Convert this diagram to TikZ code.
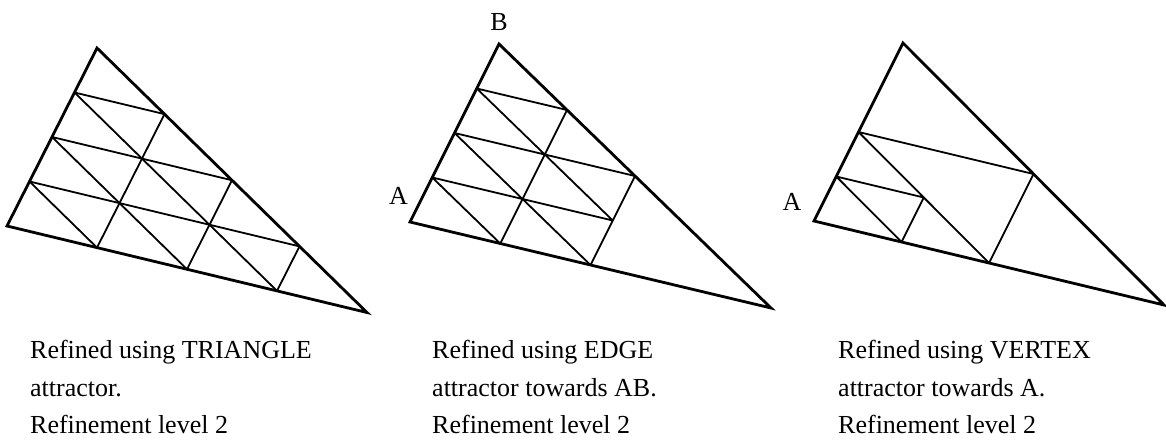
\documentclass[tikz,border=0pt]{standalone}
\usepackage{fontspec}
\setmainfont{Liberation Serif}
\usetikzlibrary{calc}
\tikzset{rim/.style={line width=2.8pt},mesh/.style={line width=1.8pt},
 lbl/.style={font=\fontsize{26}{30}\selectfont,inner sep=0pt},
 txt/.style={anchor=base west,inner sep=0pt,font=\fontsize{26}{30}\selectfont}}
\begin{document}
\begin{tikzpicture}[x=1pt,y=-1pt]
\useasboundingbox (0,0) rectangle (1166,441);
\foreach \n/\ax/\ay/\bx/\by/\cx/\cy in {1/7/226/97/48/367/312.5,2/410/222/499/44/771/308,3/814/221/903/43/1164/305}{
 \coordinate (a\n) at (\ax,\ay);\coordinate (b\n) at (\bx,\by);\coordinate (c\n) at (\cx,\cy);}
\foreach \n in {1,2,3}{\foreach \i in {0,...,4}{\foreach \j in {0,...,4}{
 \pgfmathtruncatemacro\w{4-\i-\j}\coordinate (p\n\i\j) at (barycentric cs:a\n=\w,c\n=\i,b\n=\j);}}}
\foreach \i/\e in {1/3,2/2,3/1}{\draw[mesh](p10\i)--(p1\e\i);\draw[mesh](p1\i0)--(p1\i\e);\draw[mesh](p1\i0)--(p10\i);}
\draw[mesh](p201)--(p221) (p202)--(p222) (p203)--(p213) (p210)--(p213) (p220)--(p222)
 (p210)--(p201) (p220)--(p202) (p221)--(p203);
\draw[mesh](p301)--(p311) (p302)--(p322) (p310)--(p311) (p320)--(p322) (p310)--(p301) (p320)--(p302);
\foreach \n in {1,2,3}{\draw[rim](a\n)--(b\n)--(c\n)--cycle;}
\node[lbl](lb2) at (499,22.5){B};\node[lbl](la2) at (398.5,195.5){A};\node[lbl](la3) at (792,201.5){A};
\node[txt](t1a) at (30,358){Refined using TRIANGLE};\node[txt](t1b) at (30,396){attractor.};
\node[txt](t1c) at (30,433){Refinement level 2};
\node[txt](t2a) at (432,358){Refined using EDGE};\node[txt](t2b) at (432,396){attractor towards AB.};
\node[txt](t2c) at (432,433){Refinement level 2};
\node[txt](t3a) at (838,358){Refined using VERTEX};\node[txt](t3b) at (838,396){attractor towards A.};
\node[txt](t3c) at (838,433){Refinement level 2};
\end{tikzpicture}
\end{document}
